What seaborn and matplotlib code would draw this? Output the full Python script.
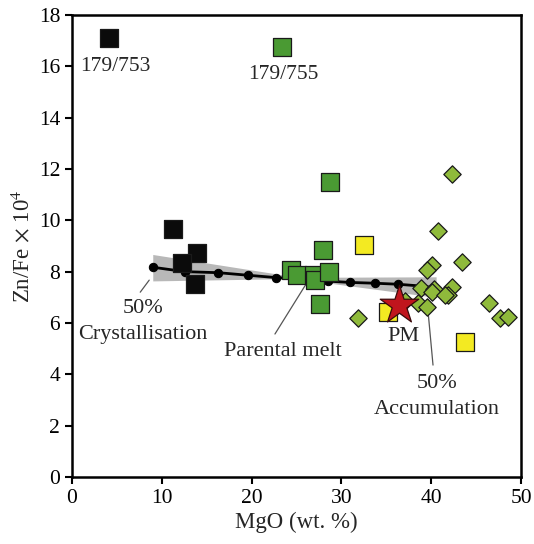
import matplotlib
matplotlib.use("Agg")
import matplotlib.pyplot as plt
import seaborn as sns
import pandas as pd

# ---- data ----
black_mgo = [4.1, 11.2, 13.9, 12.3, 13.7]
black_zn = [17.1, 9.67, 8.72, 8.33, 7.53]

green_mgo = [23.4, 27.9, 24.4, 25.1, 26.9, 27.1, 28.6, 27.6, 28.7]
green_zn = [16.75, 8.84, 8.06, 7.87, 7.87, 7.67, 8.0, 6.74, 11.5]

yellow_mgo = [32.5, 35.2, 43.8]
yellow_zn = [9.02, 6.42, 5.25]

diam_mgo = [42.3, 40.8, 43.4, 40.1, 39.5, 38.9, 40.3, 40.1, 42.3, 41.9,
            38.5, 39.5, 46.4, 47.7, 48.5, 31.9, 37.1, 41.5]
diam_zn = [11.8, 9.6, 8.36, 8.26, 8.06, 7.37, 7.31, 7.2, 7.39, 7.09,
           6.77, 6.63, 6.77, 6.18, 6.25, 6.2, 6.85, 7.1]

pm_mgo = [36.4]
pm_zn = [6.7]

model_mgo = [9.05, 12.6, 16.3, 19.6, 22.7, 25.8, 28.5, 31.0, 33.7, 36.3]
model_zn = [8.17, 8.0, 7.96, 7.86, 7.77, 7.70, 7.63, 7.58, 7.55, 7.51]
model_end_mgo = [36.3, 39.6]
model_end_zn = [7.51, 7.42]

band_cryst_mgo = [9.05, 26.0, 9.05]
band_cryst_zn = [8.65, 7.72, 7.62]
band_acc_mgo = [26.0, 40.6, 40.6, 26.0]
band_acc_zn = [7.76, 7.78, 6.98, 7.66]

# ---- style ----
sns.set_style("ticks")
plt.rcParams["font.family"] = ["Liberation Serif", "DejaVu Serif"]
plt.rcParams["mathtext.fontset"] = "stix"
FS = 16

fig = plt.figure(figsize=(5.34, 5.44), dpi=100)
ax = fig.add_axes([0.1348, 0.1232, 0.8409, 0.8492])

ax.fill(band_cryst_mgo, band_cryst_zn, color="#b8b8b8", lw=0, zorder=1)
ax.fill(band_acc_mgo, band_acc_zn, color="#b8b8b8", lw=0, zorder=1)

sns.lineplot(x=model_end_mgo, y=model_end_zn, ax=ax, color="black", lw=2.0,
             zorder=2, sort=False)
sns.lineplot(x=model_mgo, y=model_zn, ax=ax, color="black", lw=2.0,
             marker="o", markersize=6, markeredgecolor="black", zorder=2, sort=False)

sq = dict(marker="s", s=150, edgecolor="#1a1a1a", linewidth=0.9, zorder=3, legend=False)
sns.scatterplot(x=black_mgo, y=black_zn, ax=ax, color="#0b0b0b", **sq)
sns.scatterplot(x=green_mgo, y=green_zn, ax=ax, color="#4a9a33", **sq)
sns.scatterplot(x=yellow_mgo, y=yellow_zn, ax=ax, color="#f3ea22", **sq)
sns.scatterplot(x=diam_mgo, y=diam_zn, ax=ax, marker="D", s=78, color="#8fba3b",
                edgecolor="#1a1a1a", linewidth=0.9, zorder=4, legend=False)
sns.scatterplot(x=pm_mgo, y=pm_zn, ax=ax, marker="*", s=850, color="#c0151d",
                edgecolor="#3a0a0a", linewidth=0.9, zorder=5, legend=False)

# annotations
lc = "#555555"
ax.plot([8.6, 7.6], [7.67, 7.2], color=lc, lw=0.9, zorder=2)
ax.text(7.9, 6.58, "50%", ha="center", va="center", fontsize=FS)
ax.text(7.9, 5.57, "Crystallisation", ha="center", va="center", fontsize=FS)
ax.plot([26.0, 22.6], [7.48, 5.57], color=lc, lw=0.9, zorder=2)
ax.text(23.5, 4.87, "Parental melt", ha="center", va="center", fontsize=FS)
ax.text(36.9, 5.49, "PM", ha="center", va="center", fontsize=FS)
ax.plot([39.6, 40.2], [6.63, 4.36], color=lc, lw=0.9, zorder=2)
ax.text(40.6, 3.66, "50%", ha="center", va="center", fontsize=FS)
ax.text(40.6, 2.61, "Accumulation", ha="center", va="center", fontsize=FS)
ax.text(4.8, 16.0, "179/753", ha="center", va="center", fontsize=15.5)
ax.text(23.5, 15.7, "179/755", ha="center", va="center", fontsize=15.5)

ax.set_xlim(0, 50)
ax.set_ylim(0, 18)
ax.set_xticks(range(0, 51, 10))
ax.set_yticks(range(0, 19, 2))
ax.set_xlabel("MgO (wt. %)", fontsize=16.5, labelpad=3)
ax.set_ylabel(r"Zn/Fe $\times$ 10$^{4}$", fontsize=16.5, labelpad=3)
ax.tick_params(direction="out", length=5, width=1.5, labelsize=15.5, colors="black")
for s in ax.spines.values():
    s.set_visible(True)
    s.set_linewidth(1.8)
    s.set_color("black")

fig.savefig("out.png", dpi=100)
